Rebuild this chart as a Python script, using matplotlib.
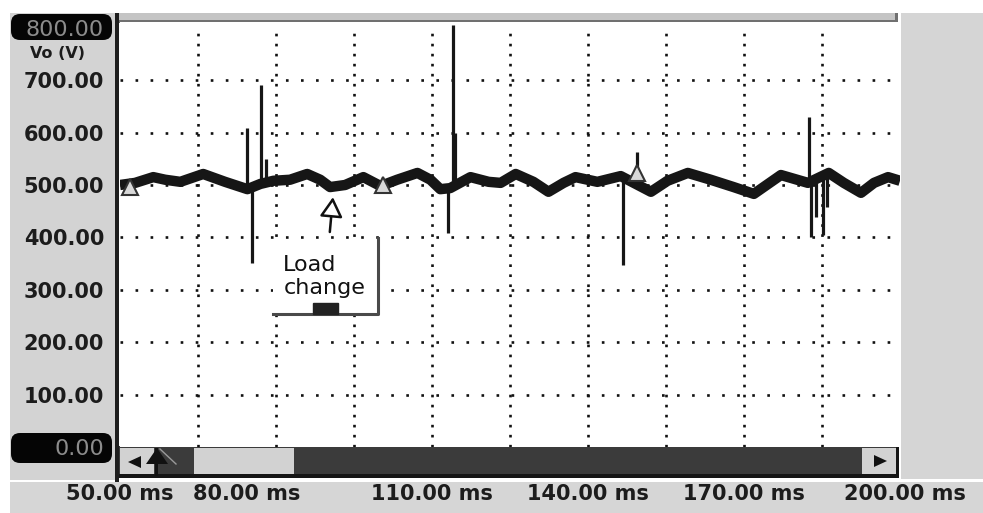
import numpy as np
import matplotlib
matplotlib.use("Agg")
import matplotlib.pyplot as plt
from matplotlib.patches import Rectangle, FancyBboxPatch, Polygon
from matplotlib.transforms import IdentityTransform, ScaledTranslation

# Vo ripple (time in ms, volts)
trace_t = [50.0, 52.9, 56.4, 58.7, 61.6, 66.0, 70.2, 74.5, 77.0, 79.5, 82.7, 86.0,
           88.5, 90.4, 93.3, 96.8, 100.1, 103.3, 107.2, 109.7, 111.6, 113.5, 117.4,
           120.9, 123.2, 126.1, 129.5, 132.4, 135.3, 137.6, 141.8, 146.3, 149.2,
           152.1, 155.3, 159.2, 163.6, 168.0, 171.9, 177.1, 182.3, 186.3, 189.2,
           192.5, 195.0, 197.7, 200.0]
trace_v = [500, 504, 515, 510, 506, 521, 506, 492, 502, 508, 510, 521,
           510, 496, 500, 515, 498, 510, 523, 510, 492, 494, 515,
           506, 504, 521, 506, 487, 504, 515, 506, 517, 502,
           487, 508, 523, 510, 496, 483, 519, 504, 523, 504,
           485, 504, 515, 508]

# switching spikes: time and extreme value
spike_t = [74.5, 75.3, 77.2, 78.0, 113.0, 114.1, 114.5, 146.7, 149.4,
           182.5, 182.9, 183.8, 185.2, 186.0]
spike_v = [608, 351, 690, 550, 408, 805, 600, 347, 563,
           630, 401, 439, 405, 458]

# cursor triangles on the trace
cursor_t = [51.9, 100.6, 149.4]
cursor_v = [496, 500, 523]

ytick_vals = [0, 100, 200, 300, 400, 500, 600, 700, 800]
xtick_vals = [50, 80, 110, 140, 170, 200]

W, H = 983, 513
plt.rcParams['font.family'] = 'DejaVu Sans'
fig = plt.figure(figsize=(W / 100, H / 100), dpi=100, facecolor='white')
PIX = IdentityTransform()

def box(x0, y0, x1, y1, color, z=-1):
    # rectangle given in screen pixels (top-left origin)
    fig.add_artist(Rectangle((x0, H - y1), x1 - x0, y1 - y0, transform=PIX,
                             facecolor=color, edgecolor='none', zorder=z))

def tri(pts, color='#111111', z=-1):
    fig.add_artist(Polygon([(x, H - y) for x, y in pts], closed=True, transform=PIX,
                           facecolor=color, edgecolor='none', zorder=z))

# screen furniture
box(10, 13, 116, 480, '#d3d3d3', -3)
box(901, 13, 983, 479, '#d5d5d5', -3)
box(10, 482, 983, 513, '#d6d6d6', -3)
box(119, 13, 898, 21, '#c4c4c4', -2)
box(119, 20, 898, 23, '#707070', -2)
box(895, 13, 898, 23, '#707070', -2)
box(115, 13, 119, 482, '#1e1e1e', -1)

# value boxes for the axis end labels
for y0, y1 in [(14, 40), (433, 463)]:
    fig.add_artist(FancyBboxPatch((11, H - y1), 101, y1 - y0, transform=PIX,
                                  boxstyle='round,pad=0,rounding_size=9',
                                  facecolor='#050505', edgecolor='none', zorder=-1))

# scroll bar
box(119, 446, 899, 478, '#3b3b3b', -2)
box(119, 474, 899, 478, '#151515', -1)
box(120, 448, 154, 474, '#d2d2d2', -1)
box(194, 448, 294, 474, '#d2d2d2', -1)
box(862, 448, 896, 474, '#d2d2d2', -1)
box(896, 444, 899, 478, '#151515', -1)
tri([(128, 462), (141, 456), (141, 468)])
tri([(146, 464), (157, 448), (168, 464)])
box(155, 448, 158, 476, '#111111', -1)
fig.add_artist(plt.Line2D([160, 176], [H - 449, H - 464], transform=PIX,
                          color='#9a9a9a', lw=1, zorder=-1))
tri([(874, 455), (874, 467), (887, 461)])

ax = fig.add_axes([120 / W, (H - 447) / H, 780 / W, 425 / H])
ax.set_facecolor('white')
ax.set_xlim(50, 200)
ax.set_ylim(0, 811)
for s in ax.spines.values():
    s.set_visible(False)

# dotted grid
for gx in np.arange(65, 200, 15):
    ax.axvline(gx, ymin=0, ymax=0.985, color='#111111', lw=1.9,
               ls=(0, (1, 2.8)), dash_capstyle='butt', zorder=1)
for gy in ytick_vals[1:-1]:
    ax.axhline(gy, color='#111111', lw=1.9, ls=(0, (1, 4.7)),
               dash_capstyle='butt', zorder=1)

base = np.interp(spike_t, trace_t, trace_v)
ax.vlines(spike_t, base, spike_v, color='#161616', lw=2.3, zorder=3)
ax.plot(trace_t, trace_v, color='#161616', lw=7.5, solid_joinstyle='round',
        solid_capstyle='butt', zorder=4)
ax.plot(cursor_t, cursor_v, ls='none', marker='^', ms=12, mfc='#d8d8d8',
        mec='#333333', mew=1.5, zorder=5)

# load change note (white label box hides the grid behind it)
ax.add_patch(Rectangle((79.5, 254), 20.2, 136, facecolor='white',
                       edgecolor='none', zorder=5))
ax.annotate('', xy=(91.0, 482), xytext=(90.3, 405),
            arrowprops=dict(arrowstyle='-|>,head_length=0.6,head_width=0.35',
                            mutation_scale=20, fc='white', ec='#111111', lw=1.8),
            zorder=6)
ax.text(81.4, 326, 'Load\nchange', fontsize=16, color='#111111',
        ha='left', va='center', linespacing=1.2, zorder=6)
ax.plot([79.5, 99.7, 99.7], [254, 254, 399], color='#4a4a4a', lw=2.2, zorder=6)
ax.add_patch(Rectangle((87.2, 254), 4.8, 21, color='#222222', zorder=6))

# ticks
ax.set_yticks(ytick_vals)
ax.set_yticklabels(['%.2f' % v for v in ytick_vals])
ax.tick_params(axis='y', length=0, pad=11.5, labelsize=15, labelcolor='#1c1c1c')
for lbl in ax.get_yticklabels():
    lbl.set_fontweight('bold')
for lbl in (ax.get_yticklabels()[0], ax.get_yticklabels()[-1]):
    lbl.set_fontweight('normal')
    lbl.set_color('#8c8c8c')
    lbl.set_fontsize(16)

ax.set_xticks(xtick_vals)
ax.set_xticklabels(['%.2f ms' % v for v in xtick_vals])
ax.tick_params(axis='x', length=0, pad=27, labelsize=15, labelcolor='#1c1c1c')
shift = {80: -29, 200: 5}
for v, lbl in zip(xtick_vals, ax.get_xticklabels()):
    lbl.set_fontweight('bold')
    if v in shift:
        lbl.set_transform(lbl.get_transform() +
                          ScaledTranslation(shift[v] / 100, 0, fig.dpi_scale_trans))

fig.text(57 / W, 1 - 54 / H, 'Vo (V)', fontsize=11.5, fontweight='bold',
         color='#1c1c1c', ha='center', va='center')

fig.savefig('out.png', dpi=100, facecolor='white')
